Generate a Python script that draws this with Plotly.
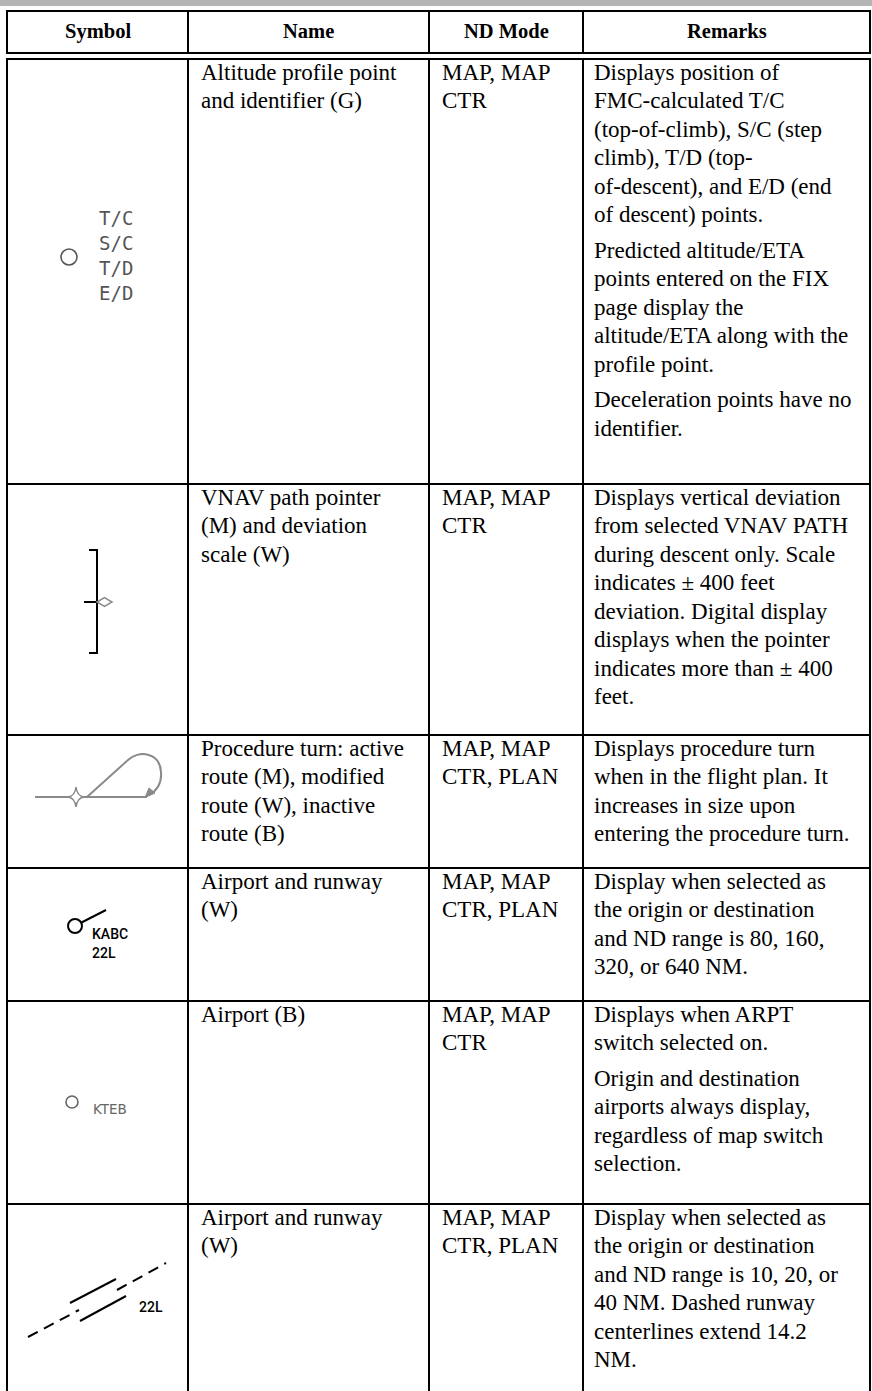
import plotly.graph_objects as go

# ---------------- data ----------------
headers = ["Symbol", "Name", "ND Mode", "Remarks"]

profile_labels = ["T/C", "S/C", "T/D", "E/D"]
airport_rwy_labels = ["KABC", "22L"]
airport_label = "KTEB"
runway_label = "22L"

names = [
    ["Altitude profile point", "and identifier (G)"],
    ["VNAV path pointer", "(M) and deviation", "scale (W)"],
    ["Procedure turn: active", "route (M), modified", "route (W), inactive", "route (B)"],
    ["Airport and runway", "(W)"],
    ["Airport (B)"],
    ["Airport and runway", "(W)"],
]

modes = [
    ["MAP, MAP", "CTR"],
    ["MAP, MAP", "CTR"],
    ["MAP, MAP", "CTR, PLAN"],
    ["MAP, MAP", "CTR, PLAN"],
    ["MAP, MAP", "CTR"],
    ["MAP, MAP", "CTR, PLAN"],
]

remarks = [
    [["Displays position of", "FMC-calculated T/C", "(top-of-climb), S/C (step",
      "climb), T/D (top-", "of-descent), and E/D (end", "of descent) points."],
     ["Predicted altitude/ETA", "points entered on the FIX", "page display the",
      "altitude/ETA along with the", "profile point."],
     ["Deceleration points have no", "identifier."]],
    [["Displays vertical deviation", "from selected VNAV PATH", "during descent only. Scale",
      "indicates \u00b1 400 feet", "deviation. Digital display", "displays when the pointer",
      "indicates more than \u00b1 400", "feet."]],
    [["Displays procedure turn", "when in the flight plan. It", "increases in size upon",
      "entering the procedure turn."]],
    [["Display when selected as", "the origin or destination", "and ND range is 80, 160,",
      "320, or 640 NM."]],
    [["Displays when ARPT", "switch selected on."],
     ["Origin and destination", "airports always display,", "regardless of map switch",
      "selection."]],
    [["Display when selected as", "the origin or destination", "and ND range is 10, 20, or",
      "40 NM. Dashed runway", "centerlines extend 14.2", "NM."]],
]

# ---------------- layout geometry ----------------
W, H = 872, 1391
col_x = [7, 188, 429, 583, 870]
header_top, header_bot1, header_bot2 = 11, 53, 59
row_lines = [59, 484, 735, 868, 1001, 1204]
row_bottom = H

SERIF = "Liberation Serif"
FS = 23
LINE = 28.5
PARA = 7
BASE_OFF = 21
MID = 0.34 * FS  # baseline -> box middle

shapes = []
annotations = []


def hline(y, x0, x1, w=2, color="black"):
    shapes.append(dict(type="line", xref="x", yref="y", x0=x0, x1=x1, y0=y, y1=y,
                       line=dict(color=color, width=w)))


def vline(x, y0, y1, w=2, color="black"):
    shapes.append(dict(type="line", xref="x", yref="y", x0=x, x1=x, y0=y0, y1=y1,
                       line=dict(color=color, width=w)))


def text(x, y, s, size=FS, family=SERIF, color="black", xanchor="left", bold=False, weight=None):
    font = dict(family=family, size=size, color=color)
    if weight is not None:
        font["weight"] = weight
    annotations.append(dict(x=x, y=y, xref="x", yref="y", text=("<b>%s</b>" % s) if bold else s,
                            showarrow=False, xanchor=xanchor, yanchor="middle",
                            font=font, borderpad=0))


# top gray bar
shapes.append(dict(type="rect", xref="x", yref="y", x0=0, x1=W, y0=0, y1=6,
                   fillcolor="#b4b4b4", line=dict(width=0)))

# table grid
hline(header_top, col_x[0] - 1, col_x[-1] + 1)
hline(header_bot1, col_x[0] - 1, col_x[-1] + 1)
hline(header_bot2, col_x[0] - 1, col_x[-1] + 1)
for y in row_lines[1:]:
    hline(y, col_x[0], col_x[-1])
for x in col_x:
    vline(x, header_top, header_bot1)
    vline(x, header_bot2, row_bottom)

# header texts
for i, h in enumerate(headers):
    cx = (col_x[i] + col_x[i + 1]) / 2
    text(cx, 31, h, size=20.5, xanchor="center", bold=True)

# body texts
PAD = 12
for r in range(len(names)):
    top = row_lines[r]
    base = top + BASE_OFF
    for k, ln in enumerate(names[r]):
        text(col_x[1] + PAD, base + k * LINE - MID, ln)
    for k, ln in enumerate(modes[r]):
        text(col_x[2] + PAD, base + k * LINE - MID, ln)
    y = base
    for p, para in enumerate(remarks[r]):
        for ln in para:
            text(col_x[3] + 10, y - MID, ln)
            y += LINE
        y += PARA

# ---------------- symbols ----------------
GRAY = "#555555"
LGRAY = "#8a8a8a"

# Row 1: altitude profile point
shapes.append(dict(type="circle", xref="x", yref="y", x0=61, x1=77, y0=249, y1=265,
                   line=dict(color=GRAY, width=1.6)))
for k, lab in enumerate(profile_labels):
    text(98, 218 + k * 25, lab, size=19, family="DejaVu Sans Mono", color=GRAY)

# Row 2: VNAV path pointer and deviation scale
shapes.append(dict(type="path", xref="x", yref="y", path="M 89 550 L 97 550 L 97 653 L 89 653",
                   line=dict(color="black", width=2)))
hline(602, 84, 97)
shapes.append(dict(type="path", xref="x", yref="y",
                   path="M 97 602 L 104.5 597.5 L 112 602 L 104.5 606.5 Z",
                   line=dict(color=LGRAY, width=1.5), fillcolor="white"))

# Row 3: procedure turn
hline(797, 35, 147, w=2, color=LGRAY)
shapes.append(dict(type="path", xref="x", yref="y",
                   path="M 87 797 L 128 760 C 138 750 160 752 161 772 C 162 784 156 791 149 795",
                   line=dict(color=LGRAY, width=2)))
shapes.append(dict(type="path", xref="x", yref="y",
                   path="M 145 797.5 L 149 788 L 155 793 Z",
                   line=dict(color=LGRAY, width=1), fillcolor=LGRAY))
shapes.append(dict(type="path", xref="x", yref="y",
                   path="M 76 787 Q 77 796 84 797 Q 77 798 76 807 Q 75 798 68 797 Q 75 796 76 787 Z",
                   line=dict(color=LGRAY, width=1.5), fillcolor="white"))

# Row 4: airport and runway (large range)
shapes.append(dict(type="circle", xref="x", yref="y", x0=68, x1=82, y0=919, y1=933,
                   line=dict(color="black", width=2)))
shapes.append(dict(type="line", xref="x", yref="y", x0=81.5, y0=922.5, x1=106, y1=910,
                   line=dict(color="black", width=2)))
text(91, 934, airport_rwy_labels[0], size=14, family="Roboto", weight=500)
text(91, 953, airport_rwy_labels[1], size=14, family="Roboto", weight=500)

# Row 5: airport
shapes.append(dict(type="circle", xref="x", yref="y", x0=66, x1=78, y0=1096, y1=1108,
                   line=dict(color="#666666", width=1.6)))
text(92, 1109, airport_label, size=13.5, family="DejaVu Sans", color="#666666")

# Row 6: airport and runway (small range)
shapes.append(dict(type="line", xref="x", yref="y", x0=70, y0=1303, x1=116, y1=1279,
                   line=dict(color="black", width=2)))
shapes.append(dict(type="line", xref="x", yref="y", x0=80, y0=1321, x1=126, y1=1296,
                   line=dict(color="black", width=2)))
shapes.append(dict(type="line", xref="x", yref="y", x0=28, y0=1337, x1=79, y1=1310,
                   line=dict(color="black", width=2, dash="11px,7px")))
shapes.append(dict(type="line", xref="x", yref="y", x0=117, y0=1290, x1=166, y1=1263,
                   line=dict(color="black", width=2, dash="11px,7px")))
text(138, 1307, runway_label, size=14, family="Roboto", weight=500)

fig = go.Figure()
fig.update_layout(
    width=W, height=H,
    margin=dict(l=0, r=0, t=0, b=0),
    paper_bgcolor="white", plot_bgcolor="white",
    xaxis=dict(range=[0, W], visible=False, fixedrange=True),
    yaxis=dict(range=[H, 0], visible=False, fixedrange=True),
    shapes=shapes, annotations=annotations, showlegend=False,
)
fig.write_html(
    "out.html",
    config={"displayModeBar": False},
    post_script="document.body.style.margin='0';document.body.style.overflow='hidden';",
)
